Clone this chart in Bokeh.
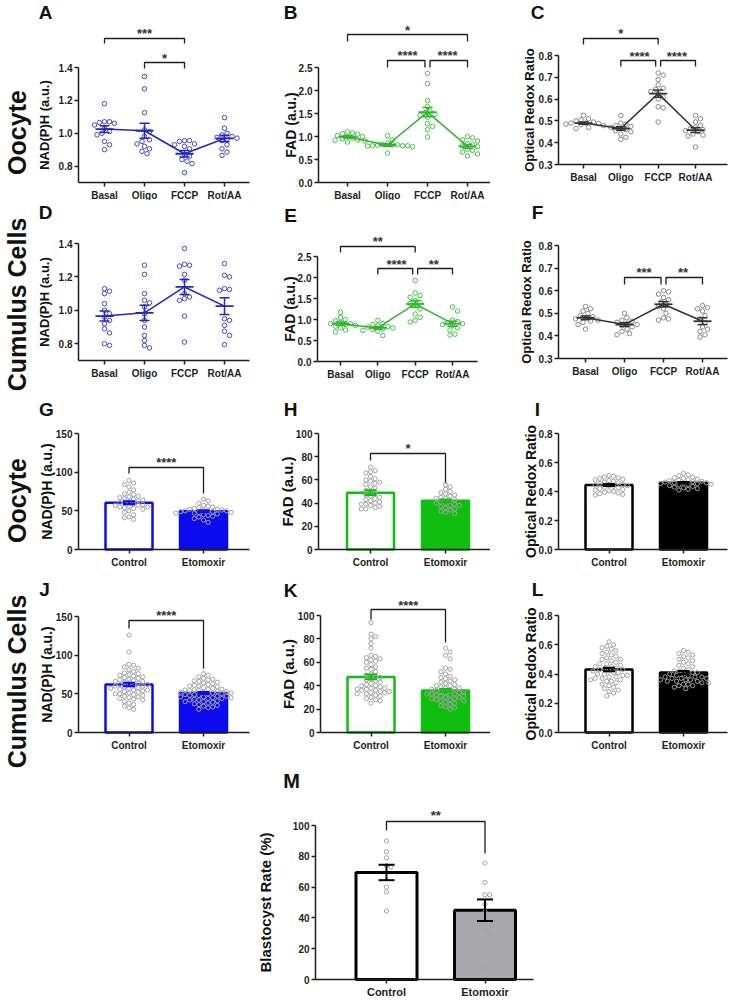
import math
from bokeh.plotting import figure
from bokeh.models import Range1d, FixedTicker, Label, Spacer, CustomJSTickFormatter, PrintfTickFormatter
from bokeh.layouts import row, column
from bokeh.embed import file_html
from bokeh.resources import INLINE
from bokeh.core.properties import value

FONT = "Liberation Sans"

# ---------------- data ----------------
stages = ["Basal", "Oligo", "FCCP", "Rot/AA"]
groups = ["Control", "Etomoxir"]

# A: Oocyte NAD(P)H
A_basal = [1.18, 1.07, 1.07, 1.065, 1.06, 1.05, 1.03, 1.01, 1.0, 0.99, 0.95, 0.93, 0.90]
A_oligo = [1.345, 1.27, 1.125, 1.02, 1.01, 0.98, 0.96, 0.95, 0.935, 0.92, 0.905, 0.89, 0.875]
A_fccp = [0.955, 0.955, 0.95, 0.935, 0.93, 0.92, 0.905, 0.87, 0.86, 0.84, 0.83, 0.815, 0.76]
A_rotaa = [1.095, 1.03, 1.0, 0.99, 0.98, 0.975, 0.97, 0.965, 0.955, 0.93, 0.905, 0.885, 0.865]
A_mean = [1.025, 1.015, 0.875, 0.968]
A_sem = [0.02, 0.045, 0.02, 0.02]

# B: Oocyte FAD
B_basal = [1.1, 1.08, 1.06, 1.05, 1.02, 1.0, 0.99, 0.97, 0.95, 0.93, 0.92, 0.9, 0.88]
B_oligo = [1.02, 0.93, 0.85, 0.83, 0.82, 0.82, 0.81, 0.8, 0.8, 0.8, 0.79, 0.78, 0.64]
B_fccp = [2.37, 2.15, 1.78, 1.65, 1.55, 1.52, 1.48, 1.46, 1.42, 1.28, 1.22, 1.15, 0.99]
B_rotaa = [1.0, 0.97, 0.93, 0.9, 0.85, 0.82, 0.8, 0.78, 0.72, 0.7, 0.66, 0.62, 0.58]
B_mean = [0.99, 0.815, 1.53, 0.785]
B_sem = [0.025, 0.025, 0.1, 0.04]

# C: Oocyte optical redox ratio
C_basal = [0.525, 0.51, 0.505, 0.5, 0.495, 0.49, 0.49, 0.488, 0.485, 0.482, 0.478, 0.47, 0.465]
C_oligo = [0.525, 0.49, 0.485, 0.48, 0.475, 0.47, 0.465, 0.46, 0.455, 0.45, 0.44, 0.425, 0.415]
C_fccp = [0.72, 0.71, 0.69, 0.665, 0.65, 0.645, 0.635, 0.625, 0.61, 0.6, 0.565, 0.56, 0.495]
C_rotaa = [0.525, 0.51, 0.495, 0.48, 0.47, 0.465, 0.46, 0.455, 0.45, 0.44, 0.435, 0.43, 0.38]
C_mean = [0.49, 0.465, 0.625, 0.458]
C_sem = [0.005, 0.008, 0.017, 0.011]

# D: Cumulus NAD(P)H
D_basal = [1.13, 1.115, 1.1, 1.04, 1.0, 0.98, 0.96, 0.94, 0.92, 0.89, 0.865, 0.8, 0.79]
D_oligo = [1.27, 1.215, 1.1, 1.06, 1.045, 1.02, 0.98, 0.94, 0.9, 0.85, 0.82, 0.79, 0.775]
D_fccp = [1.37, 1.275, 1.27, 1.265, 1.215, 1.18, 1.1, 1.08, 1.07, 1.06, 0.965, 0.81]
D_rotaa = [1.28, 1.21, 1.2, 1.13, 1.125, 1.12, 0.95, 0.94, 0.91, 0.875, 0.85, 0.795]
D_mean = [0.966, 0.985, 1.14, 1.025]
D_sem = [0.03, 0.045, 0.045, 0.05]

# E: Cumulus FAD
E_basal = [1.17, 1.05, 1.0, 0.97, 0.93, 0.9, 0.9, 0.88, 0.86, 0.84, 0.8, 0.75, 0.7]
E_oligo = [0.98, 0.9, 0.88, 0.85, 0.83, 0.82, 0.8, 0.78, 0.76, 0.74, 0.72, 0.62]
E_fccp = [1.93, 1.63, 1.57, 1.53, 1.45, 1.4, 1.38, 1.33, 1.25, 1.13, 1.05, 0.98, 0.94]
E_rotaa = [1.3, 1.2, 0.98, 0.95, 0.92, 0.9, 0.88, 0.86, 0.8, 0.75, 0.65, 0.63]
E_mean = [0.9, 0.8, 1.37, 0.9]
E_sem = [0.04, 0.03, 0.08, 0.06]

# F: Cumulus optical redox ratio
F_basal = [0.53, 0.52, 0.51, 0.5, 0.49, 0.485, 0.48, 0.475, 0.47, 0.465, 0.46, 0.45, 0.43]
F_oligo = [0.5, 0.48, 0.47, 0.465, 0.46, 0.455, 0.45, 0.445, 0.44, 0.43, 0.42, 0.41, 0.405]
F_fccp = [0.6, 0.595, 0.585, 0.57, 0.56, 0.55, 0.54, 0.53, 0.52, 0.5, 0.48, 0.475, 0.47]
F_rotaa = [0.535, 0.525, 0.52, 0.51, 0.49, 0.475, 0.46, 0.44, 0.43, 0.42, 0.405, 0.395]
F_mean = [0.48, 0.45, 0.54, 0.465]
F_sem = [0.008, 0.008, 0.012, 0.015]

# G: Oocyte NAD(P)H, Control vs Etomoxir
G_control = [89, 86, 84, 81, 77, 74, 72, 71, 69, 68, 67, 66, 65, 64, 63, 62, 61, 60, 59, 58, 57, 57,
             56, 55, 55, 54, 53, 52, 50, 48, 45, 42, 41, 39]
G_etomoxir = [65, 63, 60, 57, 56, 55, 54, 53, 52, 52, 51, 51, 50, 50, 50, 49, 49, 48, 48, 47, 47, 46,
              45, 44, 43, 42, 40, 38, 35]
G_mean = [60.5, 49.5]
G_sem = [2.0, 1.3]

# H: Oocyte FAD
H_control = [71, 68, 67, 66, 63, 61, 60, 59, 58, 57, 56, 54, 53, 51, 50, 48, 47, 46, 45, 44, 43, 42,
             41, 40, 39, 39, 38, 37, 36, 35, 35]
H_etomoxir = [56, 54, 52, 50, 49, 48, 47, 46, 45, 44, 44, 43, 42, 41, 40, 40, 39, 38, 38, 37, 36, 35,
              34, 33, 32, 31]
H_mean = [49.0, 42.0]
H_sem = [2.0, 1.2]

# I: Oocyte optical redox ratio
I_control = [0.51, 0.505, 0.5, 0.495, 0.49, 0.485, 0.48, 0.475, 0.47, 0.465, 0.46, 0.455, 0.45, 0.445,
             0.44, 0.44, 0.435, 0.43, 0.425, 0.42, 0.415, 0.41, 0.405, 0.4, 0.395, 0.39, 0.385, 0.38, 0.375]
I_etomoxir = [0.525, 0.515, 0.51, 0.5, 0.495, 0.49, 0.485, 0.48, 0.478, 0.475, 0.47, 0.468, 0.465, 0.462,
              0.46, 0.458, 0.455, 0.452, 0.45, 0.448, 0.445, 0.44, 0.435, 0.43, 0.425, 0.42, 0.415, 0.41]
I_mean = [0.445, 0.46]
I_sem = [0.007, 0.005]

# J: Cumulus NAD(P)H
J_control = [126, 104, 88, 87, 85, 83, 81, 79, 77, 76, 75, 74, 73, 72, 71, 70, 69, 68, 67, 66, 66, 65,
             64, 63, 62, 62, 61, 60, 60, 59, 58, 57, 57, 56, 55, 55, 54, 53, 52, 51, 50, 50, 49, 48,
             47, 46, 45, 44, 43, 42, 40, 38, 36, 34, 32, 30]
J_etomoxir = [76, 74, 72, 70, 69, 68, 67, 66, 65, 64, 63, 62, 61, 60, 60, 59, 58, 57, 56, 56, 55, 55,
              54, 54, 53, 53, 52, 52, 51, 51, 50, 50, 49, 49, 48, 48, 47, 47, 46, 46, 45, 45, 44, 44,
              43, 42, 42, 41, 40, 40, 39, 38, 37, 36, 35, 34, 33, 32, 30]
J_mean = [62.0, 51.0]
J_sem = [2.3, 1.3]

# K: Cumulus FAD
K_control = [94, 84, 82, 80, 76, 72, 66, 65, 64, 63, 62, 61, 60, 58, 56, 55, 54, 52, 50, 49, 48, 47,
             46, 45, 44, 43, 42, 41, 40, 40, 39, 38, 38, 37, 37, 36, 36, 35, 35, 34, 34, 33, 33, 32,
             31, 30, 29, 28, 27, 25]
K_etomoxir = [72, 69, 66, 63, 55, 54, 52, 50, 48, 47, 46, 45, 44, 43, 42, 41, 40, 40, 39, 38, 38, 37,
              37, 36, 36, 35, 35, 34, 34, 33, 33, 33, 32, 32, 31, 31, 30, 30, 29, 29, 28, 28, 27, 27,
              26, 25, 24, 23, 22, 21, 20]
K_mean = [47.5, 36.0]
K_sem = [2.0, 1.2]

# L: Cumulus optical redox ratio
L_control = [0.62, 0.6, 0.59, 0.58, 0.57, 0.56, 0.55, 0.54, 0.53, 0.52, 0.51, 0.5, 0.5, 0.49, 0.48,
             0.47, 0.47, 0.46, 0.45, 0.45, 0.44, 0.44, 0.43, 0.43, 0.42, 0.42, 0.41, 0.41, 0.4, 0.4,
             0.39, 0.39, 0.38, 0.38, 0.37, 0.37, 0.36, 0.36, 0.35, 0.35, 0.34, 0.33, 0.32, 0.31, 0.3,
             0.29, 0.28, 0.27, 0.25]
L_etomoxir = [0.56, 0.55, 0.54, 0.53, 0.52, 0.51, 0.5, 0.49, 0.48, 0.47, 0.46, 0.45, 0.44, 0.43, 0.42,
              0.42, 0.41, 0.41, 0.4, 0.4, 0.39, 0.39, 0.38, 0.38, 0.38, 0.37, 0.37, 0.37, 0.36, 0.36,
              0.36, 0.35, 0.35, 0.35, 0.34, 0.34, 0.33, 0.33, 0.32, 0.32, 0.31, 0.3]
L_mean = [0.43, 0.41]
L_sem = [0.012, 0.011]

# M: Blastocyst rate
M_control = [90, 83, 79, 74, 73, 60, 57, 44.5]
M_etomoxir = [75.5, 63, 55, 55, 49, 44, 32, 29.5, 7]
M_mean = [69.5, 45.0]
M_sem = [5.0, 7.0]

# ---------------- styles ----------------
BLUE_PT, BLUE_LN, BLUE_BAR = "#4848C8", "#2626BE", "#0B0BEE"
GREEN_PT, GREEN_LN, GREEN_BAR = "#4CC04C", "#2FB52F", "#10BE10"
GREY_PT, GREY_LN = "#8A8A8A", "#333333"
BAR_PT = "#A3A3A3"
INK = "#1E1E1E"

# image-space layout (px); the page starts at the picture's top-left corner
C1, C2, C3 = (36, 250), (250, 490), (490, 734)
R1, R2, R3, R4, R5 = (0, 200), (200, 385), (385, 572), (572, 755), (755, 998)


def swarm(vals, ppy, ppx, d):
    order = sorted(range(len(vals)), key=lambda k: -vals[k])
    cands = [0.0]
    for k in range(1, 80):
        cands += [k * d * 0.5, -k * d * 0.5]
    placed, out = [], [0.0] * len(vals)
    for k in order:
        y = vals[k] * ppy
        for c in cands:
            if all((c - px) ** 2 + (y - py) ** 2 >= d * d for px, py in placed):
                break
        placed.append((c, y))
        out[k] = c / ppx
    return out


def base(spec, cats):
    cx0, cx1 = spec["cx"]
    cy0, cy1 = spec["cy"]
    fl, fr = spec["frame"]
    c0, c1 = spec["cat_px"]
    n = len(cats)
    ppx = (c1 - c0) / (n - 1)
    b0, b1 = spec["bounds"]
    tpx, bpx = spec["bound_px"]
    ppy = (bpx - tpx) / (b1 - b0)

    def X(px):
        return (px - c0) / ppx

    def Y(py):
        return b0 + (bpx - py) / ppy

    # the frame fills the whole cell; axes are pinned at fixed locations inside it
    p = figure(width=cx1 - cx0, height=cy1 - cy0,
               x_range=Range1d(X(cx0), X(cx1)), y_range=Range1d(Y(cy1), Y(cy0)),
               min_border=0, output_backend="svg", toolbar_location=None, tools="")
    p.outline_line_color = None
    p.grid.visible = False
    p.background_fill_color = "white"
    p.border_fill_color = "white"

    for ax in (p.xaxis[0], p.yaxis[0]):
        ax.axis_line_color = INK
        ax.axis_line_width = 1.5
        ax.major_tick_line_color = INK
        ax.major_tick_line_width = 1.5
        ax.major_tick_out = 4
        ax.major_tick_in = 0
        ax.minor_tick_line_color = None
        ax.major_label_text_font = FONT
        ax.major_label_text_font_style = "bold"
        ax.major_label_text_color = INK
    xa = p.xaxis[0]
    xa.fixed_location = b0
    xa.bounds = (X(fl), X(fr))
    xa.ticker = FixedTicker(ticks=list(range(n)))
    xa.formatter = CustomJSTickFormatter(
        args=dict(names=list(cats)),
        code="const i = Math.round(tick); return (i >= 0 && i < names.length) ? names[i] : '';")
    xa.major_label_text_font_size = spec.get("xfs", "10px")
    xa.major_label_standoff = spec.get("xstand", 3)
    ya = p.yaxis[0]
    ya.fixed_location = X(fl)
    ya.bounds = (b0, b1)
    ya.ticker = FixedTicker(ticks=spec["yticks"])
    ya.formatter = PrintfTickFormatter(format=spec["yfmt"])
    ya.major_label_text_font_size = "10px"
    ya.major_label_standoff = 2

    # y title
    p.add_layout(Label(x=X(spec["title_x"]), y=(b0 + b1) / 2,
                       text=spec["title"], angle=math.pi / 2, text_align="center",
                       text_baseline="middle", text_font=FONT, text_font_style="bold",
                       text_font_size=spec["title_fs"], text_color="#111111"))
    # panel letter (position = top of the glyph box)
    lx, ly = spec["letter_xy"]
    p.add_layout(Label(x=X(lx), y=Y(ly), text=spec["letter"], text_align="center",
                       text_baseline="top", text_font=FONT, text_font_style="bold",
                       text_font_size=spec.get("letter_fs", "19px"), text_color="#111111"))
    # significance brackets
    brs = spec.get("brackets", [])
    for (i, j, ly_, l1, l2, txt, ty) in brs:
        li, rj = float(i), float(j)
        for (i2, j2, ly2, *_rest) in brs:
            if ly2 == ly_ and (i2, j2) != (i, j):
                if i2 == j:
                    rj -= 2.5 / ppx
                if j2 == i:
                    li += 2.5 / ppx
        p.line([li, li, rj, rj], [Y(l1), Y(ly_), Y(ly_), Y(l2)], line_color=INK, line_width=1.3)
        p.add_layout(Label(x=(i + j) / 2, y=Y(ty + 3), text=txt, text_align="center",
                           text_baseline="middle", text_font=FONT, text_font_style="bold",
                           text_font_size="13px", text_color="#333333"))
    return p, X, Y, ppx, ppy


def line_panel(spec, series, means, sems, pt_color, ln_color):
    p, X, Y, ppx, ppy = base(spec, stages)
    for i, vals in enumerate(series):
        offs = swarm(vals, ppy, ppx, 5.0)
        p.scatter([i + o for o in offs], vals, marker="circle", size=4.5, fill_color=None,
                  line_color=pt_color, line_width=1)
    xs = list(range(len(means)))
    p.line(xs, means, line_color=ln_color, line_width=1.5)
    mh, ch = 9 / ppx, 5 / ppx
    p.segment(x0=[x - mh for x in xs], y0=means, x1=[x + mh for x in xs], y1=means,
              line_color=ln_color, line_width=1.8)
    lo = [m - s for m, s in zip(means, sems)]
    hi = [m + s for m, s in zip(means, sems)]
    p.segment(x0=xs, y0=lo, x1=xs, y1=hi, line_color=ln_color, line_width=1.5)
    for ys in (lo, hi):
        p.segment(x0=[x - ch for x in xs], y0=ys, x1=[x + ch for x in xs], y1=ys,
                  line_color=ln_color, line_width=1.5)
    return p


def bar_panel(spec, series, means, sems, fills, edges, err_color, lw, bar_px, cap_px):
    p, X, Y, ppx, ppy = base(spec, groups)
    xs = list(range(len(means)))
    b0 = spec["bounds"][0]
    p.vbar(x=xs, top=means, bottom=b0, width=bar_px / ppx, fill_color=fills,
           line_color=edges, line_width=lw)
    for i, vals in enumerate(series):
        offs = swarm(vals, ppy, ppx, 4.6)
        p.scatter([i + o for o in offs], vals, marker="circle", size=4.2, fill_color=None,
                  line_color=BAR_PT, line_width=1)
    lo = [m - s for m, s in zip(means, sems)]
    hi = [m + s for m, s in zip(means, sems)]
    ch = cap_px / ppx
    p.segment(x0=xs, y0=lo, x1=xs, y1=hi, line_color=err_color, line_width=2)
    for ys in (lo, hi):
        p.segment(x0=[x - ch for x in xs], y0=ys, x1=[x + ch for x in xs], y1=ys,
                  line_color=err_color, line_width=2)
    return p


NADH = "NAD(P)H (a.u.)"
FAD = "FAD (a.u.)"
ORR = "Optical Redox Ratio"
t_nadh = [0.8, 1.0, 1.2, 1.4]
t_fad = [0.0, 0.5, 1.0, 1.5, 2.0, 2.5]
t_orr = [0.3, 0.4, 0.5, 0.6, 0.7, 0.8]

spec_A = dict(cx=C1, cy=R1, frame=(78, 249), cat_px=(104, 224), bounds=(0.7, 1.4), bound_px=(67, 182),
              yticks=t_nadh, yfmt="%.1f", title=NADH, title_x=44, title_fs="13px",
              letter="A", letter_xy=(45, 1),
              brackets=[(0, 2, 38, 43, 43, "***", 30), (1, 2, 62, 68, 68, "*", 55)])
spec_B = dict(cx=C2, cy=R1, frame=(318, 490), cat_px=(347, 467), bounds=(0.0, 2.5), bound_px=(67, 182),
              yticks=t_fad, yfmt="%.1f", title=FAD, title_x=290, title_fs="14px",
              letter="B", letter_xy=(290, 1),
              brackets=[(0, 3, 34, 41, 41, "*", 27), (1, 2, 60, 67, 67, "****", 52),
                        (2, 3, 60, 67, 67, "****", 52)])
spec_C = dict(cx=C3, cy=R1, frame=(558, 727), cat_px=(583, 695), bounds=(0.3, 0.8), bound_px=(55, 164),
              yticks=t_orr, yfmt="%.1f", title=ORR, title_x=529, title_fs="13px",
              letter="C", letter_xy=(537, 1),
              brackets=[(0, 2, 38, 44, 44, "*", 30), (1, 2, 60, 66, 66, "****", 53),
                        (2, 3, 60, 66, 66, "****", 53)])
spec_D = dict(cx=C1, cy=R2, frame=(78, 249), cat_px=(104, 224), bounds=(0.7, 1.4), bound_px=(243, 360),
              yticks=t_nadh, yfmt="%.1f", title=NADH, title_x=44, title_fs="13px",
              letter="D", letter_xy=(45, 201))
spec_E = dict(cx=C2, cy=R2, frame=(317, 477), cat_px=(340, 452), bounds=(0.0, 2.5), bound_px=(256, 361),
              yticks=t_fad, yfmt="%.1f", title=FAD, title_x=289, title_fs="14px",
              letter="E", letter_xy=(290, 204),
              brackets=[(0, 2, 246, 252, 252, "**", 238), (1, 2, 268, 274, 274, "****", 261),
                        (2, 3, 268, 274, 274, "**", 261)])
spec_F = dict(cx=C3, cy=R2, frame=(558, 727), cat_px=(585, 702), bounds=(0.3, 0.8), bound_px=(245, 358),
              yticks=t_orr, yfmt="%.1f", title=ORR, title_x=526, title_fs="13px",
              letter="F", letter_xy=(537, 201),
              brackets=[(1, 2, 277, 284, 284, "***", 269), (2, 3, 277, 284, 284, "**", 269)])
spec_G = dict(cx=C1, cy=R3, frame=(78, 249), cat_px=(128.5, 203), bounds=(0, 150), bound_px=(433, 549),
              yticks=[0, 50, 100, 150], yfmt="%d", title=NADH, title_x=46, title_fs="14px",
              letter="G", letter_xy=(46, 398),
              brackets=[(0, 1, 467, 473, 493, "****", 459)])
spec_H = dict(cx=C2, cy=R3, frame=(318, 490), cat_px=(370, 445), bounds=(0, 100), bound_px=(433, 549),
              yticks=[0, 20, 40, 60, 80, 100], yfmt="%d", title=FAD, title_x=287, title_fs="15px",
              letter="H", letter_xy=(290, 398),
              brackets=[(0, 1, 453, 460, 483, "*", 445)])
spec_I = dict(cx=C3, cy=R3, frame=(558, 727), cat_px=(608.5, 683), bounds=(0.0, 0.8), bound_px=(433, 549),
              yticks=[0.0, 0.2, 0.4, 0.6, 0.8], yfmt="%.1f", title=ORR, title_x=530, title_fs="14px",
              letter="I", letter_xy=(537, 398))
spec_J = dict(cx=C1, cy=R4, frame=(78, 249), cat_px=(128.5, 203), bounds=(0, 150), bound_px=(616, 732),
              yticks=[0, 50, 100, 150], yfmt="%d", title=NADH, title_x=46, title_fs="14px",
              letter="J", letter_xy=(44, 578),
              brackets=[(0, 1, 620, 628, 668, "****", 612)])
spec_K = dict(cx=C2, cy=R4, frame=(320, 490), cat_px=(370.5, 445), bounds=(0, 100), bound_px=(615, 732),
              yticks=[0, 20, 40, 60, 80, 100], yfmt="%d", title=FAD, title_x=288, title_fs="15px",
              letter="K", letter_xy=(290, 579),
              brackets=[(0, 1, 609, 619, 642, "****", 602)])
spec_L = dict(cx=C3, cy=R4, frame=(558, 727), cat_px=(608.5, 683), bounds=(0.0, 0.8), bound_px=(615, 732),
              yticks=[0.0, 0.2, 0.4, 0.6, 0.8], yfmt="%.1f", title=ORR, title_x=530, title_fs="14px",
              letter="L", letter_xy=(537, 578))
spec_M = dict(cx=(236, 536), cy=R5, frame=(315, 533), cat_px=(386, 484.5), bounds=(0, 100),
              bound_px=(825, 979), yticks=[0, 20, 40, 60, 80, 100], yfmt="%d",
              title="Blastocyst Rate (%)", title_x=265, title_fs="15px",
              letter="M", letter_xy=(291, 769), letter_fs="20px", xfs="11px", xstand=2,
              brackets=[(0, 1, 821, 830, 853, "**", 812)])

pA = line_panel(spec_A, [A_basal, A_oligo, A_fccp, A_rotaa], A_mean, A_sem, BLUE_PT, BLUE_LN)
pB = line_panel(spec_B, [B_basal, B_oligo, B_fccp, B_rotaa], B_mean, B_sem, GREEN_PT, GREEN_LN)
pC = line_panel(spec_C, [C_basal, C_oligo, C_fccp, C_rotaa], C_mean, C_sem, GREY_PT, GREY_LN)
pD = line_panel(spec_D, [D_basal, D_oligo, D_fccp, D_rotaa], D_mean, D_sem, BLUE_PT, BLUE_LN)
pE = line_panel(spec_E, [E_basal, E_oligo, E_fccp, E_rotaa], E_mean, E_sem, GREEN_PT, GREEN_LN)
pF = line_panel(spec_F, [F_basal, F_oligo, F_fccp, F_rotaa], F_mean, F_sem, GREY_PT, GREY_LN)

pG = bar_panel(spec_G, [G_control, G_etomoxir], G_mean, G_sem, ["white", BLUE_BAR], [BLUE_BAR, BLUE_BAR],
               BLUE_BAR, 2.5, 47, 6)
pH = bar_panel(spec_H, [H_control, H_etomoxir], H_mean, H_sem, ["white", GREEN_BAR], [GREEN_BAR, GREEN_BAR],
               GREEN_BAR, 2.5, 47, 6)
pI = bar_panel(spec_I, [I_control, I_etomoxir], I_mean, I_sem, ["white", "black"], ["black", "black"],
               "black", 2.5, 47, 6)
pJ = bar_panel(spec_J, [J_control, J_etomoxir], J_mean, J_sem, ["white", BLUE_BAR], [BLUE_BAR, BLUE_BAR],
               BLUE_BAR, 2.5, 47, 6)
pK = bar_panel(spec_K, [K_control, K_etomoxir], K_mean, K_sem, ["white", GREEN_BAR], [GREEN_BAR, GREEN_BAR],
               GREEN_BAR, 2.5, 47, 6)
pL = bar_panel(spec_L, [L_control, L_etomoxir], L_mean, L_sem, ["white", "black"], ["black", "black"],
               "black", 2.5, 47, 6)
pM = bar_panel(spec_M, [M_control, M_etomoxir], M_mean, M_sem, ["white", "#A8A8AC"], ["black", "black"],
               "black", 3.0, 61, 8)

# side labels (rows)
side_texts = ["Oocyte", "Cumulus Cells", "Oocyte", "Cumulus Cells"]
side_y = [132, 304, 500, 681]
total_h = R5[1] - R1[0]
side = figure(width=C1[0], height=total_h, x_range=Range1d(0, C1[0]), y_range=Range1d(R5[1], R1[0]),
              min_border=0, x_axis_type=None, y_axis_type=None, output_backend="svg",
              toolbar_location=None, tools="")
side.outline_line_color = None
side.text(x=[16] * len(side_texts), y=side_y, text=side_texts, angle=math.pi / 2,
          text_align="center", text_baseline="middle", text_font=value(FONT),
          text_font_style="bold", text_font_size="25px", text_color="#111111")

grid = column(
    row(pA, pB, pC),
    row(pD, pE, pF),
    row(pG, pH, pI),
    row(pJ, pK, pL),
    row(Spacer(width=spec_M["cx"][0] - C1[0], height=R5[1] - R5[0]), pM),
)
layout = row(side, grid)

open("out.html", "w").write(file_html(layout, INLINE))
